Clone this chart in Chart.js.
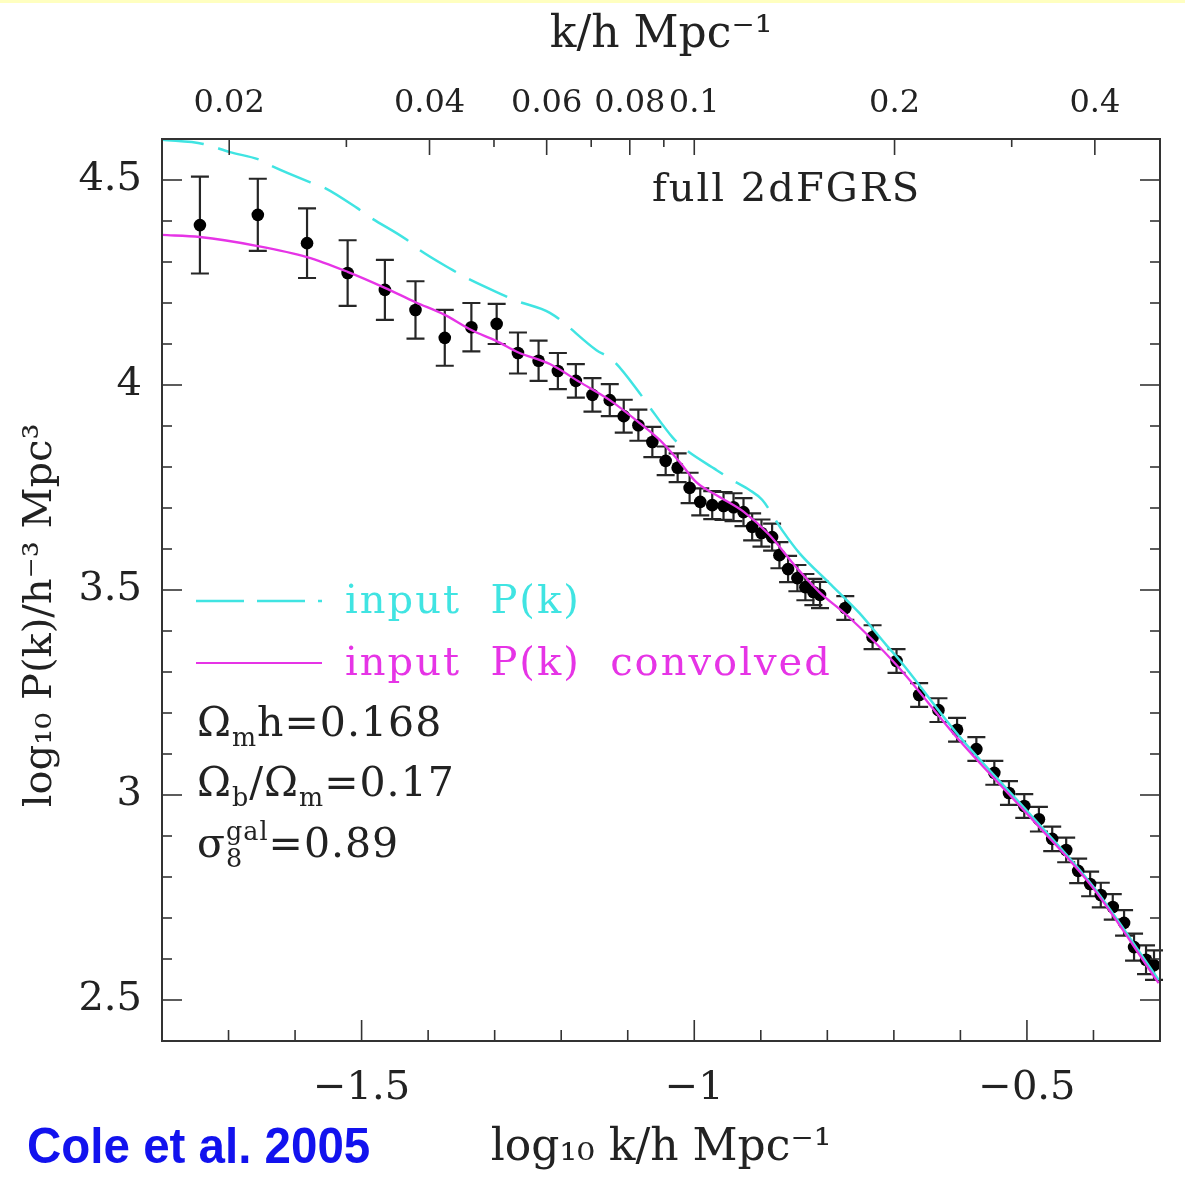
<!DOCTYPE html>
<html>
<head>
<meta charset="utf-8">
<script src="https://cdn.jsdelivr.net/npm/chart.js@4.4.1/dist/chart.umd.min.js"></script>
<style>
  html, body { margin: 0; padding: 0; background: #fff; }
  canvas { display: block; }
</style>
</head>
<body>
<canvas id="pk" width="1185" height="1177"></canvas>
<script>
// 2dFGRS power spectrum (log10 k, log10 P, 1-sigma)
const logK = [-1.743, -1.656, -1.582, -1.521, -1.465, -1.419, -1.375, -1.335, -1.297, -1.265,
  -1.234, -1.205, -1.178, -1.153, -1.127, -1.106, -1.084, -1.063, -1.043, -1.025,
  -1.007, -0.991, -0.973, -0.956, -0.941, -0.926, -0.913, -0.899, -0.883, -0.872,
  -0.859, -0.845, -0.833, -0.821, -0.811, -0.773, -0.732, -0.696, -0.662, -0.633,
  -0.605, -0.576, -0.549, -0.527, -0.504, -0.482, -0.462, -0.441, -0.423, -0.405,
  -0.389, -0.371, -0.354, -0.339, -0.321, -0.309];
const logP = [4.390, 4.415, 4.346, 4.273, 4.232, 4.183, 4.115, 4.141, 4.149, 4.078,
  4.059, 4.034, 4.010, 3.976, 3.963, 3.924, 3.902, 3.861, 3.815, 3.798,
  3.749, 3.715, 3.707, 3.705, 3.702, 3.690, 3.654, 3.639, 3.629, 3.585,
  3.551, 3.529, 3.507, 3.495, 3.488, 3.456, 3.385, 3.327, 3.244, 3.207,
  3.159, 3.112, 3.054, 3.005, 2.973, 2.941, 2.893, 2.866, 2.815, 2.783,
  2.756, 2.727, 2.688, 2.629, 2.598, 2.585];
const errP = [0.118, 0.088, 0.085, 0.080, 0.073, 0.070, 0.068, 0.059, 0.049, 0.050,
  0.049, 0.044, 0.041, 0.041, 0.039, 0.040, 0.038, 0.037, 0.035, 0.035,
  0.037, 0.033, 0.034, 0.034, 0.034, 0.034, 0.033, 0.033, 0.033, 0.032,
  0.032, 0.032, 0.032, 0.032, 0.032, 0.029, 0.029, 0.029, 0.029, 0.029,
  0.029, 0.029, 0.029, 0.029, 0.029, 0.030, 0.030, 0.030, 0.030, 0.030,
  0.030, 0.031, 0.031, 0.033, 0.035, 0.036];

// model curves
const convK = [-1.8, -1.743, -1.656, -1.582, -1.521, -1.465, -1.419, -1.375, -1.335, -1.297,
  -1.265, -1.217, -1.172, -1.127, -1.082, -1.052, -1.022, -0.997, -0.962, -0.925,
  -0.887, -0.847, -0.812, -0.771, -0.696, -0.602, -0.501, -0.402, -0.302];
const convP = [4.366, 4.361, 4.339, 4.312, 4.276, 4.237, 4.202, 4.171, 4.134, 4.107,
  4.080, 4.051, 4.007, 3.963, 3.907, 3.866, 3.812, 3.763, 3.727, 3.690,
  3.634, 3.556, 3.495, 3.439, 3.317, 3.134, 2.956, 2.776, 2.541];
const inputK = [-1.8, -1.738, -1.698, -1.653, -1.635, -1.578, -1.558, -1.507, -1.488, -1.432,
  -1.417, -1.363, -1.342, -1.288, -1.267, -1.217, -1.147, -1.123, -1.082, -1.067,
  -1.033, -1.018, -0.967, -0.943, -0.917, -0.898, -0.868, -0.842, -0.797, -0.752,
  -0.711, -0.692, -0.602, -0.501, -0.402, -0.302];
const inputP = [4.598, 4.588, 4.568, 4.549, 4.534, 4.495, 4.483, 4.432, 4.410, 4.354,
  4.334, 4.280, 4.261, 4.220, 4.205, 4.176, 4.085, 4.061, 3.980, 3.946,
  3.873, 3.849, 3.793, 3.768, 3.744, 3.720, 3.646, 3.590, 3.517, 3.444,
  3.365, 3.330, 3.144, 2.963, 2.780, 2.549];

// tick labels
const xTicks = [-1.5, -1, -0.5];
const yTicks = [2.5, 3, 3.5, 4, 4.5];
const topLabels = ['0.02', '0.04', '0.06', '0.08', '0.1', '0.2', '0.4'];
const topMinor = [0.03, 0.05, 0.07, 0.09, 0.3];

const SERIF = '"DejaVu Serif", "Liberation Serif", serif';
const INK = '#222';
const CYAN = '#40e4e2';
const MAGENTA = '#e634e6';

const toXY = (xs, ys) => xs.map((x, i) => ({ x: x, y: ys[i] }));

// draws text made of pieces, some of them sub/superscript
function richText(ctx, x, y, parts, size) {
  parts.forEach(p => {
    let s = size, dy = 0;
    if (p.sub) { s = size * 0.62; dy = size * 0.25; }
    if (p.sup) { s = size * 0.62; dy = -size * 0.42; }
    ctx.font = s + 'px ' + SERIF;
    ctx.fillText(p.t, x, y + dy);
    if (!p.stack) x += ctx.measureText(p.t).width;
  });
  return x;
}

const errorBars = {
  id: 'errorBars',
  beforeDatasetsDraw(chart) {
    const { ctx, scales: { x, y } } = chart;
    ctx.save();
    ctx.strokeStyle = '#262626';
    ctx.lineWidth = 2.2;
    logK.forEach((k, i) => {
      const px = x.getPixelForValue(k);
      const top = y.getPixelForValue(logP[i] + errP[i]);
      const bot = y.getPixelForValue(logP[i] - errP[i]);
      ctx.beginPath();
      ctx.moveTo(px, top); ctx.lineTo(px, bot);
      ctx.moveTo(px - 9, top); ctx.lineTo(px + 9, top);
      ctx.moveTo(px - 9, bot); ctx.lineTo(px + 9, bot);
      ctx.stroke();
    });
    ctx.restore();
  }
};

const frameAndText = {
  id: 'frameAndText',
  beforeDraw(chart) {
    const ctx = chart.ctx;
    ctx.save();
    ctx.fillStyle = '#fff';
    ctx.fillRect(0, 0, chart.width, chart.height);
    ctx.fillStyle = '#ffffc0';
    ctx.fillRect(0, 0, chart.width, 3);
    ctx.restore();
  },
  afterDraw(chart) {
    const { ctx, chartArea: a, scales } = chart;
    ctx.save();
    ctx.strokeStyle = '#333';
    ctx.lineWidth = 1.6;
    const seg = (x1, y1, x2, y2) => { ctx.beginPath(); ctx.moveTo(x1, y1); ctx.lineTo(x2, y2); ctx.stroke(); };
    // bottom ticks every 0.1
    for (let i = -17; i <= -4; i++) {
      const px = scales.x.getPixelForValue(i / 10);
      seg(px, a.bottom, px, a.bottom - (i % 5 === 0 ? 21 : 11));
    }
    // left / right ticks every 0.1
    for (let i = 25; i <= 45; i++) {
      const py = scales.y.getPixelForValue(i / 10);
      const len = i % 5 === 0 ? 20 : 10;
      seg(a.left, py, a.left + len, py);
      seg(a.right, py, a.right - len, py);
    }
    // top ticks in k
    topLabels.forEach(k => {
      const px = scales.x2.getPixelForValue(Math.log10(parseFloat(k)));
      seg(px, a.top, px, a.top + 16);
    });
    topMinor.forEach(k => {
      const px = scales.x2.getPixelForValue(Math.log10(k));
      seg(px, a.top, px, a.top + 8);
    });
    ctx.lineWidth = 2;
    ctx.strokeRect(a.left, a.top, a.right - a.left, a.bottom - a.top);

    // labels inside the plot
    ctx.textBaseline = 'alphabetic';
    ctx.letterSpacing = '2px';
    ctx.fillStyle = INK;
    ctx.font = '40px ' + SERIF;
    ctx.fillText('full 2dFGRS', 652, 201);

    ctx.lineWidth = 2.5;
    ctx.strokeStyle = CYAN;
    ctx.setLineDash([48, 13]);
    seg(196, 601, 322, 601);
    ctx.setLineDash([]);
    ctx.lineWidth = 2.2;
    ctx.strokeStyle = MAGENTA;
    seg(196, 663, 322, 663);
    ctx.font = '40px ' + SERIF;
    ctx.fillStyle = CYAN;
    ctx.fillText('input  P(k)', 345, 613);
    ctx.fillStyle = MAGENTA;
    ctx.fillText('input  P(k)  convolved', 345, 675);

    ctx.letterSpacing = '1px';
    ctx.fillStyle = INK;
    richText(ctx, 197, 736, [{ t: 'Ω' }, { t: 'm', sub: true }, { t: 'h=0.168' }], 41);
    richText(ctx, 197, 796, [{ t: 'Ω' }, { t: 'b', sub: true }, { t: '/Ω' }, { t: 'm', sub: true }, { t: '=0.17' }], 41);
    richText(ctx, 197, 857, [{ t: 'σ' }, { t: '8', sub: true, stack: true }, { t: 'gal', sup: true }, { t: '=0.89' }], 41);

    // credit line, slightly condensed bold sans
    ctx.letterSpacing = '0px';
    ctx.font = 'bold 50px "Liberation Sans", Arial, sans-serif';
    ctx.fillStyle = '#1212ee';
    ctx.translate(27, 1163);
    ctx.scale(0.95, 1);
    ctx.fillText('Cole et al. 2005', 0, 0);
    ctx.restore();
  }
};

const tickFont = { family: SERIF, size: 40 };
const titleFont = { family: SERIF, size: 44 };

new Chart(document.getElementById('pk'), {
  type: 'scatter',
  data: {
    datasets: [{
      type: 'line',
      label: 'input P(k) convolved',
      data: toXY(convK, convP),
      borderColor: MAGENTA,
      borderWidth: 2.3,
      pointRadius: 0,
      fill: false,
      cubicInterpolationMode: 'monotone'
    }, {
      type: 'line',
      label: 'input P(k)',
      data: toXY(inputK, inputP),
      borderColor: CYAN,
      borderWidth: 2.5,
      pointRadius: 0,
      fill: false,
      cubicInterpolationMode: 'monotone',
      segment: {
        borderDash: c => c.p0.parsed.x < -0.86 ? [42, 15] : undefined
      }
    }, {
      label: 'full 2dFGRS',
      data: toXY(logK, logP),
      backgroundColor: '#000',
      borderColor: '#000',
      pointRadius: 6.3,
      borderWidth: 0
    }]
  },
  options: {
    responsive: false,
    animation: false,
    layout: { padding: { left: 0, right: 25, top: 0, bottom: 0 } },
    plugins: { legend: { display: false }, tooltip: { enabled: false } },
    scales: {
      x: {
        type: 'linear',
        position: 'bottom',
        min: -1.8, max: -0.3,
        grid: { display: false, drawTicks: false },
        border: { display: false },
        afterBuildTicks: s => { s.ticks = xTicks.map(v => ({ value: v })); },
        afterFit: s => { s.height = 136; },
        ticks: {
          autoSkip: false, maxRotation: 0, padding: 24, color: INK, font: tickFont,
          callback: v => (v < 0 ? '\u2212' : '') + Math.abs(v)
        },
        title: { display: true, text: 'log\u2081\u2080 k/h Mpc\u207b\u00b9', color: INK, font: titleFont, padding: { top: 0, bottom: 2 } }
      },
      x2: {
        type: 'linear',
        position: 'top',
        display: true,
        min: -1.8, max: -0.3,
        grid: { display: false, drawTicks: false },
        border: { display: false },
        afterBuildTicks: s => { s.ticks = topLabels.map(k => ({ value: Math.log10(parseFloat(k)) })); },
        afterFit: s => { s.height = 139; },
        ticks: {
          autoSkip: false, maxRotation: 0, padding: 16, color: INK, font: { family: SERIF, size: 32 },
          callback: (v, i) => topLabels[i]
        },
        title: { display: true, text: 'k/h Mpc\u207b\u00b9', color: INK, font: titleFont, padding: { top: 9, bottom: 0 } }
      },
      y: {
        type: 'linear',
        min: 2.4, max: 4.6,
        grid: { display: false, drawTicks: false },
        border: { display: false },
        afterBuildTicks: s => { s.ticks = yTicks.map(v => ({ value: v })); },
        afterFit: s => { s.width = 162; },
        ticks: { padding: 20, color: INK, font: tickFont, callback: v => String(v) },
        // trailing no-break spaces push the rotated title down to where the original sits
        title: { display: true, text: 'log\u2081\u2080 P(k)/h\u207b\u00b3 Mpc\u00b3\u00a0\u00a0\u00a0\u00a0', color: INK, font: tickFont, padding: { top: 17, bottom: 0 } }
      }
    }
  },
  plugins: [errorBars, frameAndText]
});
</script>
</body>
</html>
